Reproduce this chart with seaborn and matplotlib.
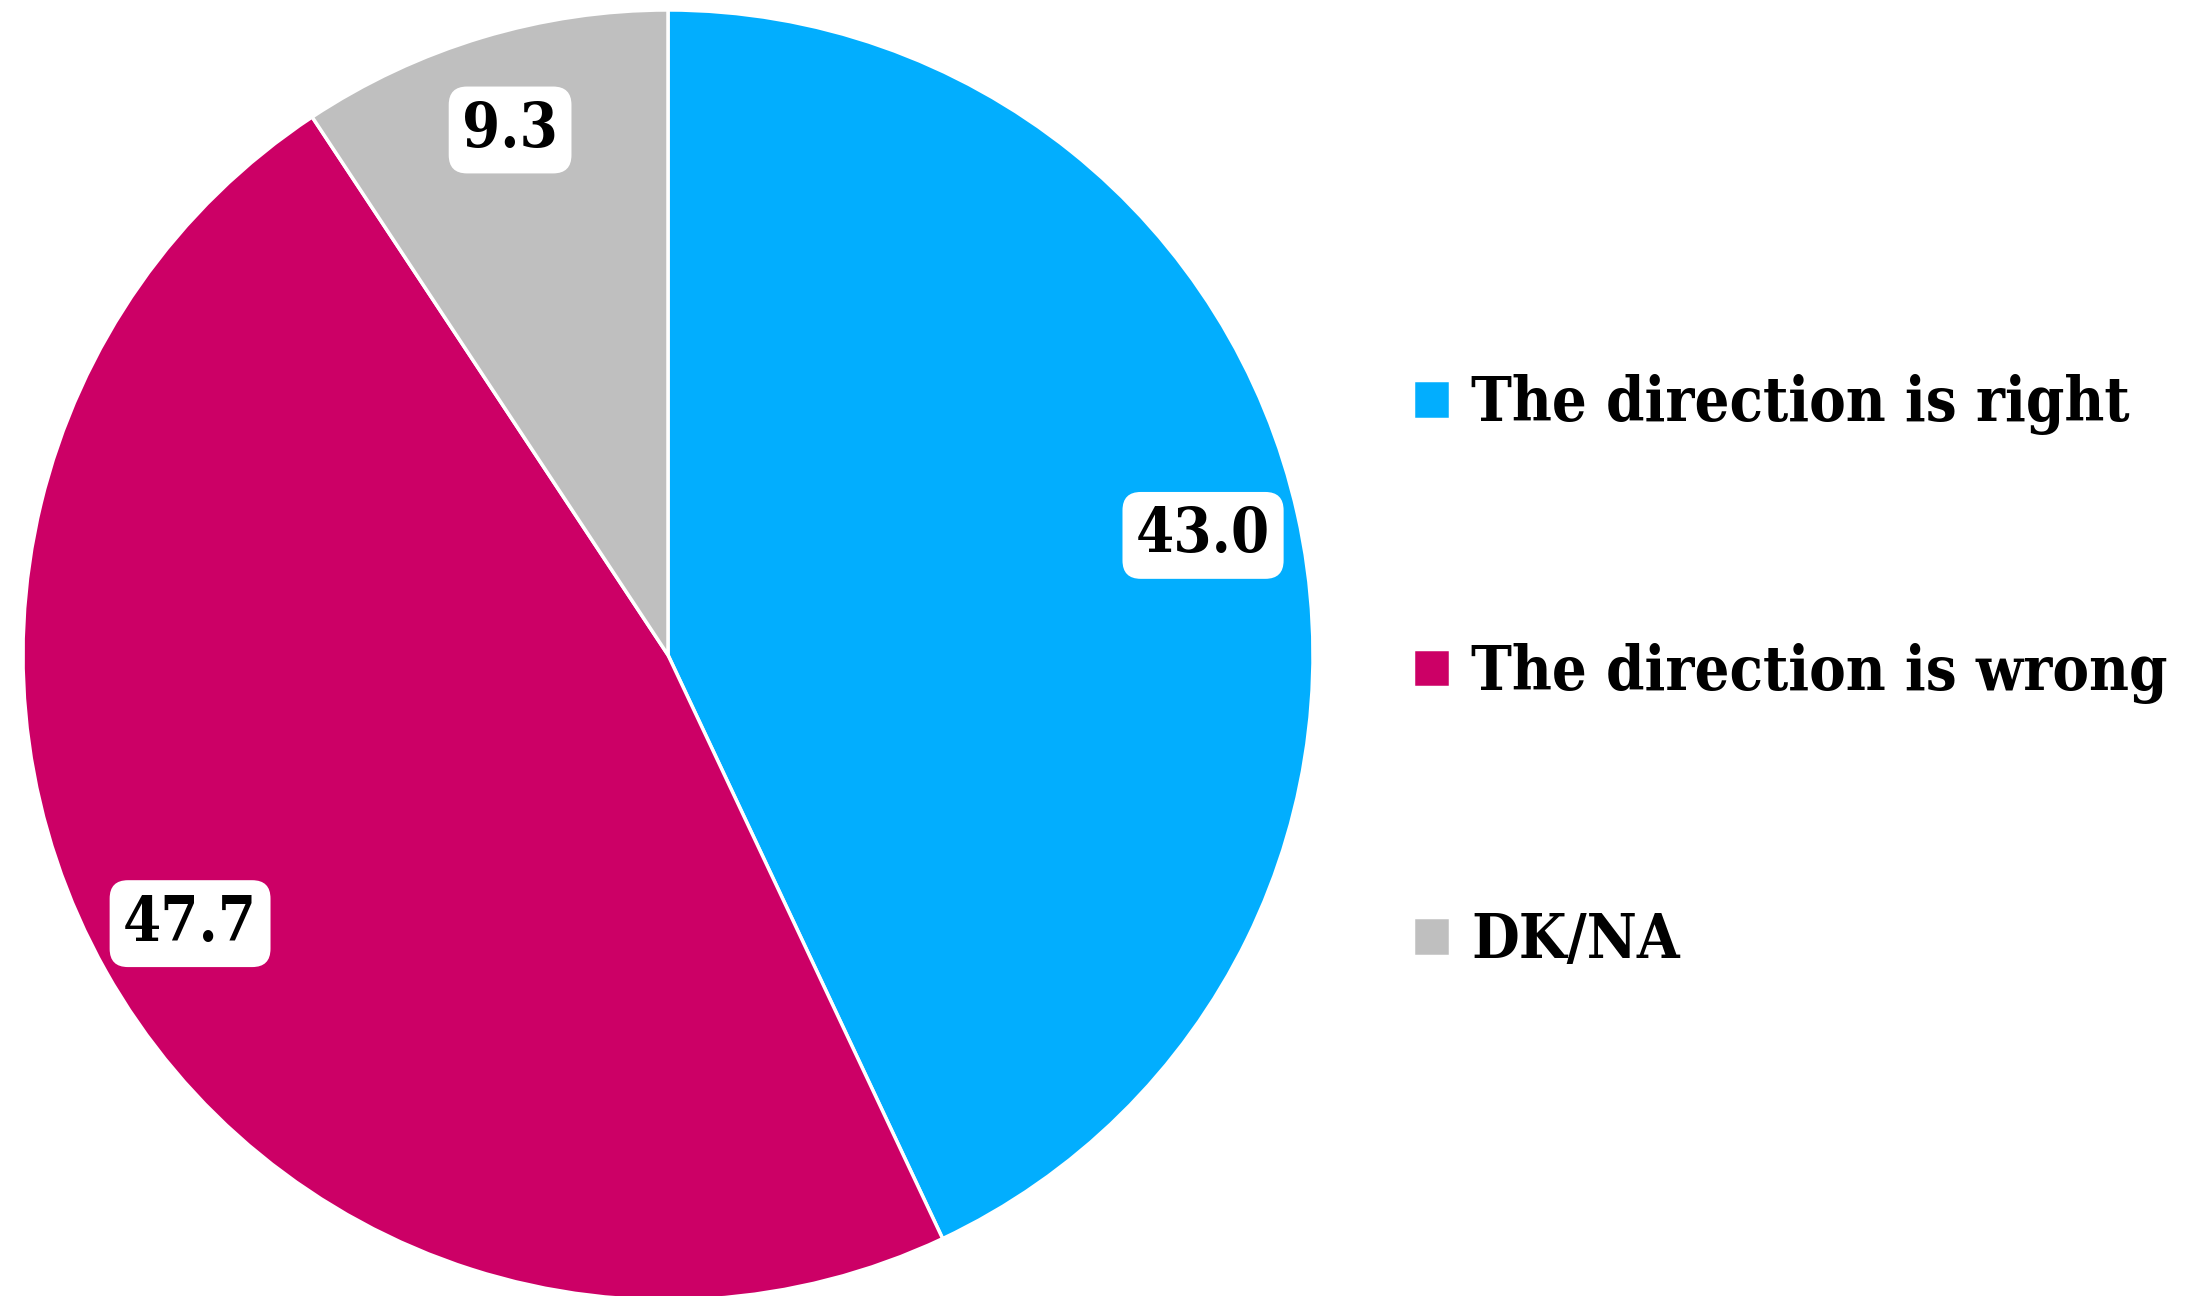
import matplotlib
matplotlib.use("Agg")
import matplotlib.pyplot as plt
import seaborn as sns

categories = ["The direction is right", "The direction is wrong", "DK/NA"]
values = [43.0, 47.7, 9.3]
colors = ["#02AEFE", "#CC0066", "#BFBFBF"]

sns.set_style("white")
plt.rcParams["font.family"] = ["DejaVu Serif"]
plt.rcParams["text.color"] = "black"

fig = plt.figure(figsize=(22.01, 12.96), dpi=100)
# pie axes: centre ~ (668, 655) px, radius ~645 px
ax = fig.add_axes([0.01045, -0.0031, 0.5861, 0.9954])

wedges, texts, autotexts = ax.pie(
    values, colors=colors, startangle=90, counterclock=False,
    autopct="%.1f", pctdistance=0.85,
    wedgeprops=dict(edgecolor="white", linewidth=2.5),
)
for t in autotexts:
    t.set_fontsize(44)
    t.set_fontweight("bold")
    t.set_fontstretch("condensed")
    t.set_color("black")
    t.set_bbox(dict(boxstyle="round,pad=0.22,rounding_size=0.3", fc="white", ec="none"))
ax.set_xlim(-1, 1)
ax.set_ylim(-1, 1)
ax.set_aspect("equal")
ax.axis("off")

leg = fig.legend(
    wedges, categories, loc="center left", bbox_to_anchor=(0.617, 0.481),
    frameon=False, handlelength=0.6, handleheight=0.6, handletextpad=0.35,
    labelspacing=3.4, labelcolor="black",
    prop=dict(family="DejaVu Serif", weight="bold", size=44, stretch="condensed"),
)

fig.savefig("out.png", dpi=100)
